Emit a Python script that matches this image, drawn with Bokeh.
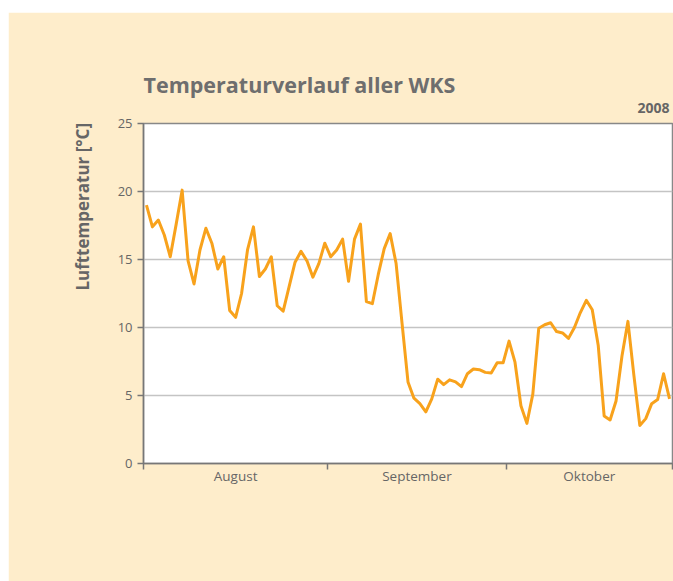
import numpy as np
from bokeh.plotting import figure
from bokeh.models import Range1d, FixedTicker, Title
from bokeh.embed import file_html
from bokeh.resources import INLINE

# Daily mean air temperature, 1 Aug – 28 Oct 2008
temps = [
    19.0, 17.4, 17.9, 16.8, 15.2, 17.6, 20.1, 14.9, 13.2, 15.7,
    17.3, 16.2, 14.3, 15.2, 11.25, 10.75, 12.5, 15.7, 17.4, 13.75,
    14.3, 15.2, 11.6, 11.2, 13.0, 14.8, 15.6, 14.9, 13.7, 14.7,
    16.2,
    15.2, 15.7, 16.5, 13.4, 16.5, 17.6, 11.9, 11.75, 13.9, 15.8,
    16.9, 14.7, 10.3, 6.0, 4.8, 4.4, 3.8, 4.75, 6.2, 5.8,
    6.15, 6.0, 5.65, 6.6, 6.95, 6.9, 6.7, 6.65, 7.4, 7.4,
    9.0, 7.45, 4.25, 2.95, 5.1, 9.95, 10.2, 10.35, 9.7, 9.6,
    9.2, 10.0, 11.1, 12.0, 11.3, 8.7, 3.5, 3.2, 4.6, 7.9,
    10.45, 6.5, 2.8, 3.3, 4.4, 4.7, 6.6, 4.75,
]
month_names = ["August", "September", "Oktober"]
month_lengths = [31, 30, 28]  # October shown through the 28th
y_ticks = [0, 5, 10, 15, 20, 25]
title_text = "Temperaturverlauf aller WKS"
year_text = "2008"
y_label_text = "Lufttemperatur  [°C]"

days = np.arange(len(temps)) + 0.5
bounds = np.concatenate([[0], np.cumsum(month_lengths)])
centers = (bounds[:-1] + bounds[1:]) / 2.0

BEIGE = "#FEEDCB"
GRAY = "#666666"
FONT = "Open Sans"

p = figure(width=665, height=569, output_backend="svg", toolbar_location=None,
           x_range=Range1d(0, float(bounds[-1])), y_range=Range1d(0, 25),
           min_border_left=135, min_border_right=1, min_border_top=111,
           min_border_bottom=118)
p.margin = (12, 0, 0, 8)
p.border_fill_color = BEIGE
p.background_fill_color = "white"
p.outline_line_color = "#888888"
p.outline_line_width = 1.5

p.line(days, temps, line_color="#F8A21C", line_width=3, line_join="round")

# y axis
ya = p.yaxis[0]
ya.ticker = FixedTicker(ticks=y_ticks)
ya.axis_line_color = "#777777"
ya.axis_line_width = 1.5
ya.major_tick_line_color = "#777777"
ya.major_tick_line_width = 1.5
ya.major_tick_in = 0
ya.major_tick_out = 6
ya.minor_tick_line_color = None
ya.major_label_text_font = FONT
ya.major_label_text_font_size = "13px"
ya.major_label_text_color = GRAY
ya.major_label_standoff = 5

# x axis: labels at month centres, ticks at month boundaries
xa = p.xaxis[0]
xa.ticker = FixedTicker(ticks=list(centers), minor_ticks=list(bounds))
xa.major_label_overrides = {float(c): n for c, n in zip(centers, month_names)}
xa.axis_line_color = "#777777"
xa.axis_line_width = 1.5
xa.major_tick_line_color = None
xa.minor_tick_line_color = "#777777"
xa.minor_tick_line_width = 1.5
xa.minor_tick_in = 0
xa.minor_tick_out = 6
xa.major_label_text_font = FONT
xa.major_label_text_font_size = "13.5px"
xa.major_label_text_color = GRAY
xa.major_label_standoff = -3

p.xgrid.grid_line_color = None
p.ygrid.ticker = FixedTicker(ticks=y_ticks)
p.ygrid.grid_line_color = "#C4C4C4"
p.ygrid.grid_line_width = 1.5

# y-axis caption, top-aligned to the plot frame
p.add_layout(Title(text=y_label_text, align="right", text_font=FONT,
                   text_font_style="bold", text_font_size="17px",
                   text_color=GRAY, standoff=42, offset=-5), "left")
p.add_layout(Title(text=year_text, align="right", text_font=FONT,
                   text_font_style="bold", text_font_size="14px",
                   text_color=GRAY, standoff=21, offset=3,
                   text_line_height=0.7), "above")
p.add_layout(Title(text=title_text, align="left", text_font=FONT,
                   text_font_style="bold", text_font_size="21.5px",
                   text_color="#6E6E6E", standoff=-17, offset=0), "above")

open("out.html", "w").write(file_html(p, INLINE))
